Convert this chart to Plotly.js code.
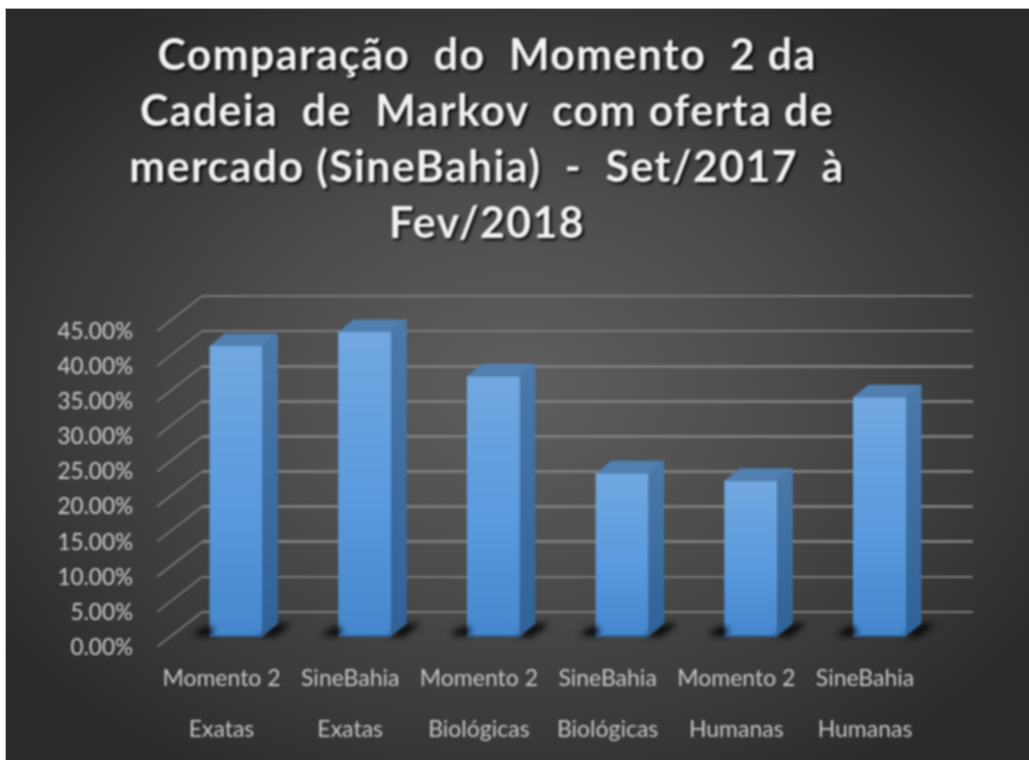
<!DOCTYPE html>
<html>
<head>
<meta charset="utf-8">
<script src="https://cdn.plot.ly/plotly-3.0.1.min.js"></script>
<style>
html,body{margin:0;padding:0;background:#fff;width:1029px;height:760px;overflow:hidden}
#bg{position:absolute;left:5px;top:8px;width:1024px;height:752px;border-top:1px solid #aaa;border-left:1px solid #bbb;box-sizing:border-box;
background:radial-gradient(ellipse 62% 62% at 50% 50%,#5e5e5e 0%,#505050 35%,#3c3c3c 70%,#2a2a2a 100%)}
#chart{position:absolute;left:0;top:0;width:1029px;height:760px}
#chart .main-svg{filter:blur(.8px)}
#chart .gtitle{letter-spacing:1.3px}
</style>
</head>
<body>
<div id="bg"></div>
<div id="chart"></div>
<script>
// ---- data ----
const groups = ["Momento 2","SineBahia","Momento 2","SineBahia","Momento 2","SineBahia"];
const areas  = ["Exatas","Exatas","Biológicas","Biológicas","Humanas","Humanas"];
const values = [41.3,43.3,37.0,23.2,22.1,34.0];
const yTicks = [0,5,10,15,20,25,30,35,40,45];
const yTickLabels = ["0.00%","5.00%","10.00%","15.00%","20.00%","25.00%","30.00%","35.00%","40.00%","45.00%"];
const chartTitle = "Comparação  do  Momento  2 da<br>Cadeia  de  Markov  com oferta de<br>mercado (SineBahia)  -  Set/2017  à<br>Fev/2018";

// ---- page geometry (pixels in the 1029x760 page) ----
const W=1029,H=760;
const frontL=157, backL=202, rightPx=973, topPx=296, backBase=612, frontBase=647, barBase=636;
const pxPerCat=128.7, pxPerPct=7.02, firstCat=236, barPx=53, depthX=15.5, depthY=12.5;
const xd=[frontL/W,rightPx/W], ydFull=[(H-frontBase)/H,(H-topPx)/H];
const xRange=[(frontL-firstCat)/pxPerCat,(rightPx-firstCat)/pxPerCat];
const cats=values.map((_,i)=>i);
const hw=barPx/2/pxPerCat, dx=depthX/pxPerCat, dy=depthY/pxPerPct;
const px=p=>p/pxPerCat, py=p=>p/pxPerPct;
const skip={hoverinfo:'skip',showlegend:false};
const traces=[];

// back wall (carries the horizontal gridlines); one unit of slack so 0 and 45 are drawn
const wallUnit=(backBase-topPx)/45;
traces.push({type:'scatter',mode:'lines',x:[0,1],y:[0,0],xaxis:'x',yaxis:'y',line:{width:0},...skip});

// floor shadows
const shX=[],shY=[];
cats.forEach(i=>{
  const l=i-hw,r=i+hw;
  shX.push(l-px(17),l-px(6),l+px(3),l+px(3),null, r-px(3),r+dx,r+dx+px(14),r+px(12),null);
  shY.push(0,py(9),py(9),0,null, -py(1),dy,dy,-py(1),null);
});
traces.push({type:'scatter',mode:'lines',x:shX,y:shY,xaxis:'x2',yaxis:'y2',fill:'toself',fillcolor:'rgba(4,4,4,.95)',line:{width:0},name:'shadow',...skip});

// front faces
traces.push({type:'bar',x:cats,y:values,width:barPx/pxPerCat,xaxis:'x2',yaxis:'y2',marker:{color:'#5597d8',line:{width:0}},...skip});

// dark lower edge of the front faces
const eX=[],eY=[];
cats.forEach(i=>{eX.push(i-hw,i+hw,null);eY.push(0,0,null);});
traces.push({type:'scatter',mode:'lines',x:eX,y:eY,xaxis:'x2',yaxis:'y2',line:{color:'#2b5f97',width:2},...skip});

// side faces, one per bar so each gets its own gradient
cats.forEach(i=>{
  const r=i+hw,v=values[i];
  traces.push({type:'scatter',mode:'lines',x:[r,r+dx,r+dx,r,r],y:[0,dy,v+dy,v,0],xaxis:'x2',yaxis:'y2',
    fill:'toself',fillcolor:'#3c6fa3',line:{width:0},name:'side',...skip});
});
// top faces
const tX=[],tY=[];
cats.forEach(i=>{
  const l=i-hw,r=i+hw,v=values[i];
  tX.push(l,l+dx,r+dx,r,l,null);
  tY.push(v,v+dy,v+dy,v,v,null);
});
traces.push({type:'scatter',mode:'lines',x:tX,y:tY,xaxis:'x2',yaxis:'y2',fill:'toself',fillcolor:'#507fb0',line:{width:0},...skip});

// left wall: diagonal gridlines, tied to the value ticks
const wx=[],wy=[];
const xAtFront=xRange[0], xAtBack=xRange[0]+(backL-frontL)/pxPerCat, wallRise=(frontBase-backBase)/pxPerPct;
yTicks.forEach(t=>{wx.push(xAtFront,xAtBack,null);wy.push(t,t+wallRise,null);});
traces.push({type:'scatter',mode:'lines',x:wx,y:wy,xaxis:'x2',yaxis:'y3',line:{color:'#7f7f7f',width:1.6},...skip});

// carriers for the two rows of category labels
traces.push({type:'scatter',mode:'lines',x:cats,y:cats.map(()=>0),xaxis:'x3',yaxis:'y3',line:{width:0},...skip});
traces.push({type:'scatter',mode:'lines',x:cats,y:cats.map(()=>0),xaxis:'x4',yaxis:'y3',line:{width:0},...skip});

const fam='Lato, "Open Sans", sans-serif';
const yFont={family:fam,size:22.5,color:'#cfcfcf'};
const xFont={family:fam,size:23,color:'#c9c9c9'};
const labelRange=[(frontL-221.5)/pxPerCat,(rightPx-221.5)/pxPerCat];
const hidden={showgrid:false,zeroline:false,showticklabels:false,ticks:'',showline:false,fixedrange:true};
const layout={
  width:W,height:H,autosize:false,
  margin:{l:0,r:0,t:0,b:0},
  paper_bgcolor:'rgba(0,0,0,0)',plot_bgcolor:'rgba(0,0,0,0)',
  showlegend:false,
  title:{text:chartTitle,x:487/W,xanchor:'center',y:1-70/H,yanchor:'top',xref:'paper',yref:'container',
    font:{family:fam,size:43,weight:700,color:'#f2f2f2',shadow:'2px 2px 3px #000'}},
  xaxis:{...hidden,domain:[backL/W,rightPx/W],range:[0,1],anchor:'y'},
  yaxis:{domain:[(H-backBase-wallUnit)/H,(H-topPx+wallUnit)/H],range:[-1,46],anchor:'x',tickvals:yTicks,showticklabels:false,ticks:'',
    showgrid:true,gridcolor:'#7c7c7c',gridwidth:2.6,zeroline:false,showline:false,fixedrange:true},
  xaxis2:{...hidden,domain:xd,range:xRange,anchor:'y2'},
  yaxis2:{...hidden,domain:ydFull,range:[-(frontBase-barBase)/pxPerPct,(barBase-topPx)/pxPerPct],anchor:'x2'},
  yaxis3:{domain:ydFull,range:[0,(frontBase-topPx)/pxPerPct],overlaying:'y2',anchor:'x2',side:'left',
    tickvals:yTicks,ticktext:yTickLabels,tickfont:yFont,ticks:'',ticklabelstandoff:23,
    showgrid:false,zeroline:false,showline:false,fixedrange:true},
  xaxis3:{...hidden,showticklabels:true,tickfont:xFont,domain:xd,range:labelRange,overlaying:'x2',anchor:'free',position:(H-662)/H,side:'bottom',
    tickvals:cats,ticktext:groups},
  xaxis4:{...hidden,showticklabels:true,tickfont:xFont,domain:xd,range:labelRange,overlaying:'x2',anchor:'free',position:(H-713)/H,side:'bottom',
    tickvals:cats,ticktext:areas}
};

const gd=document.getElementById('chart');
Plotly.newPlot(gd,traces,layout,{displayModeBar:false,staticPlot:true}).then(()=>{
  // vertical shading on the bar faces
  const NS='http://www.w3.org/2000/svg';
  const svg=gd.querySelector('.main-svg');
  let defs=svg.querySelector('defs');
  if(!defs){defs=document.createElementNS(NS,'defs');svg.prepend(defs);}
  const grad=(id,stops)=>{
    const g=document.createElementNS(NS,'linearGradient');
    g.id=id;g.setAttribute('x1','0');g.setAttribute('y1','0');g.setAttribute('x2','0');g.setAttribute('y2','1');
    stops.forEach(([o,c])=>{const s=document.createElementNS(NS,'stop');s.setAttribute('offset',o);s.setAttribute('stop-color',c);g.appendChild(s);});
    defs.appendChild(g);
  };
  grad('faceG',[[0,'#72a8e0'],[0.55,'#5a9ade'],[1,'#4587cd']]);
  grad('sideG',[[0,'#4b7aab'],[1,'#2f6298']]);
  gd.querySelectorAll('.barlayer .point path').forEach(p=>{p.style.fill='url(#faceG)';});
  gd.querySelectorAll('.scatterlayer .trace').forEach(t=>{
    const f=t.querySelector('.js-fill');
    if(!f) return;
    const c=(f.style.fill||'').replace(/\s/g,'');
    if(c==='rgb(60,111,163)') f.style.fill='url(#sideG)';
    if(c==='rgb(4,4,4)'||c.startsWith('rgba(4,4,4')) f.style.filter='blur(3px)';
  });
});
</script>
</body>
</html>
